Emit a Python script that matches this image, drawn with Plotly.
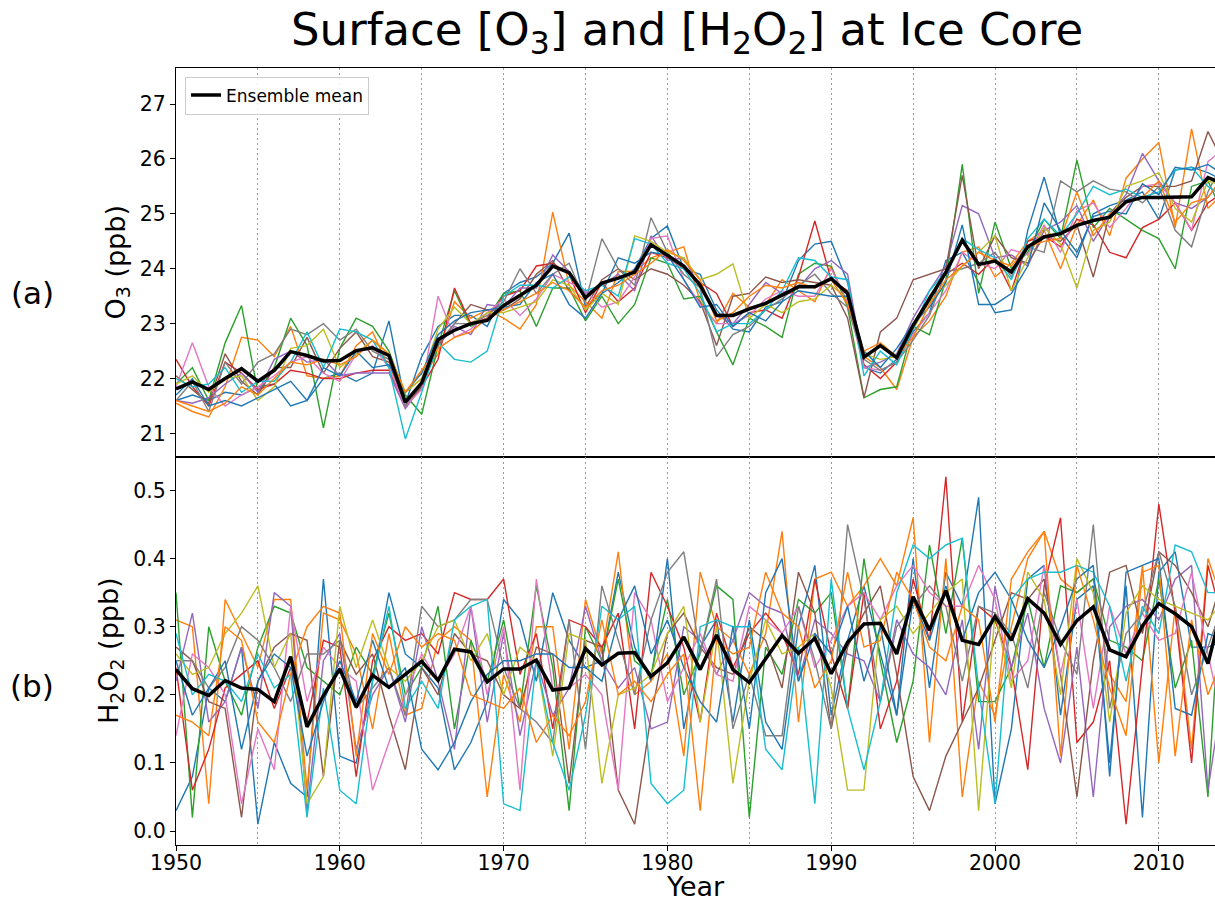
import plotly.graph_objects as go
from plotly.subplots import make_subplots

years = list(range(1950, 2015))

# ---------------- O3 (ppb) ----------------
o3_mean = [21.81,21.94,21.80,22.00,22.18,21.95,22.15,22.49,22.42,22.32,
           22.33,22.51,22.56,22.42,21.57,21.92,22.71,22.88,23.00,23.06,
           23.33,23.52,23.70,24.05,23.93,23.47,23.74,23.83,23.94,24.44,
           24.25,24.05,23.70,23.15,23.15,23.27,23.37,23.52,23.67,23.67,
           23.82,23.55,22.39,22.60,22.38,22.97,23.46,23.94,24.52,24.08,
           24.14,23.94,24.40,24.58,24.64,24.79,24.88,24.94,25.22,25.30,
           25.30,25.30,25.31,25.66,25.54]

o3_m01 = [21.6,21.7,21.6,21.75,21.7,21.85,21.9,21.5,21.6,22.0,
          22.1,21.95,22.1,23.05,21.55,22.4,22.95,23.15,23.15,22.95,
          23.55,23.75,23.85,24.1,24.65,23.3,23.55,23.75,24.0,24.55,
          24.78,24.0,23.9,23.25,22.9,22.85,23.3,23.4,24.15,24.45,
          24.5,23.75,22.2,22.1,22.35,22.85,23.2,24.15,24.3,23.75,
          23.2,23.25,24.7,25.67,24.6,24.2,25.0,25.15,25.25,25.4,
          24.9,25.8,25.85,25.75,25.6]
o3_m02 = [21.55,21.4,21.3,21.85,22.75,22.7,22.4,22.95,22.05,22.0,
          22.05,22.6,22.85,22.2,21.75,22.0,22.45,23.4,23.1,23.25,
          23.1,22.9,23.35,25.03,23.7,23.4,23.1,23.95,23.95,24.2,
          24.3,24.4,23.4,23.0,23.55,23.3,23.35,23.8,23.6,23.4,
          24.05,23.35,22.4,22.2,21.8,22.75,23.05,23.5,24.3,24.4,
          23.85,24.1,24.5,24.7,24.0,24.8,25.25,24.6,25.65,26.0,
          26.3,24.75,26.55,25.1,25.4]
o3_m03 = [21.9,22.2,21.6,22.65,23.33,21.75,22.2,23.1,22.6,21.1,
          22.55,23.1,22.95,22.5,21.7,21.35,22.6,23.6,22.95,23.1,
          23.55,23.6,22.95,23.65,23.65,23.05,23.5,23.0,23.35,24.2,
          24.1,23.45,23.5,22.85,22.25,23.1,22.95,22.75,23.9,24.1,
          24.05,23.3,21.65,21.8,21.85,22.95,22.8,23.8,25.9,23.55,
          24.85,24.0,24.3,24.9,24.55,25.98,24.75,25.1,24.9,24.7,
          24.55,24.0,25.5,25.6,24.95]
o3_m04 = [22.35,21.85,21.5,22.3,22.1,21.8,21.9,22.15,22.1,22.0,
          22.0,22.1,22.15,22.15,21.5,21.85,22.35,23.65,23.0,23.1,
          23.5,23.6,24.05,24.1,23.9,23.2,23.75,23.4,23.65,24.3,
          24.2,24.0,23.75,23.55,22.95,23.2,23.25,23.1,23.85,24.87,
          23.8,23.6,22.25,22.0,22.3,22.9,23.5,23.9,24.1,23.9,
          24.2,23.6,24.5,24.6,24.4,24.9,24.8,24.3,24.2,24.75,
          24.9,25.2,24.7,25.2,25.4]
o3_m05 = [21.6,21.55,21.65,21.9,22.1,21.75,22.35,22.5,22.3,22.35,
          22.05,22.1,22.1,22.1,21.45,21.85,22.6,22.95,22.8,23.35,
          23.3,23.65,23.65,24.25,23.95,23.55,23.7,23.9,23.6,24.6,
          24.15,24.2,23.65,23.15,23.0,23.35,23.75,23.55,23.65,24.0,
          24.15,23.9,22.2,22.3,22.45,23.1,23.6,24.05,25.15,25.0,
          24.2,24.25,24.05,24.7,24.85,25.15,24.5,25.0,25.35,26.1,
          25.6,25.2,25.1,25.3,25.7]
o3_m06 = [22.05,21.8,21.55,22.45,21.95,21.7,22.2,22.2,22.75,22.1,
          22.55,22.85,22.4,22.3,21.5,21.85,22.6,23.0,23.35,23.25,
          23.25,23.45,23.9,24.15,23.6,23.3,23.8,24.0,23.8,24.0,
          23.9,23.7,23.4,22.6,23.5,23.55,23.85,23.75,23.8,23.75,
          23.7,23.1,21.65,22.85,23.1,23.8,23.9,24.0,25.7,24.0,
          24.6,24.2,24.1,24.6,24.5,24.8,23.85,25.0,25.3,25.5,
          25.5,25.5,25.6,26.5,25.9]
o3_m07 = [21.85,22.65,21.85,21.5,21.7,21.85,22.05,22.3,22.4,22.1,
          21.95,22.45,22.6,22.2,21.5,21.8,23.5,22.75,22.9,23.2,
          23.45,23.15,23.45,23.9,23.75,23.6,23.3,23.4,23.85,24.55,
          24.6,23.8,23.35,23.0,23.0,23.15,23.45,23.6,23.5,23.5,
          24.0,23.4,22.2,22.15,22.3,22.8,23.2,23.6,24.3,24.1,
          24.0,24.35,24.25,24.8,24.3,25.05,25.2,24.75,25.1,25.5,
          25.55,25.2,24.7,25.95,26.2]
o3_m08 = [21.6,21.95,21.4,22.3,21.9,22.3,22.45,22.9,22.8,23.0,
          22.7,22.9,22.5,22.35,21.5,21.95,22.65,23.0,23.0,23.15,
          23.4,24.0,23.55,23.9,24.1,23.4,24.55,24.0,23.7,24.93,
          24.3,23.9,23.65,22.4,22.8,22.95,23.25,23.45,23.7,23.9,
          23.55,23.3,22.35,22.15,22.3,22.7,23.15,23.95,24.0,24.1,
          24.3,23.85,24.4,24.3,25.6,25.4,25.6,25.45,25.4,25.2,
          25.5,24.7,24.4,25.4,26.0]
o3_m09 = [21.9,22.05,21.75,22.0,22.05,21.6,21.85,22.55,22.6,22.9,
          22.2,22.45,22.7,22.45,21.75,22.0,22.9,23.3,23.0,23.2,
          23.2,23.3,23.4,23.8,23.7,23.25,23.55,23.35,24.6,24.5,
          24.3,24.2,23.8,23.9,24.09,23.1,23.35,23.2,23.4,23.45,
          23.7,23.45,22.45,22.35,22.4,22.9,23.4,23.7,24.05,24.3,
          24.6,23.6,24.2,24.75,24.45,23.65,24.7,24.85,25.5,25.6,
          25.75,25.1,24.85,25.6,25.5]
o3_m10 = [22.0,21.85,21.9,22.2,21.75,21.95,21.95,22.3,22.85,22.2,
          22.9,22.85,22.7,22.2,20.9,21.75,22.65,22.35,22.3,22.5,
          23.5,23.7,23.7,23.65,23.85,23.6,23.7,23.5,24.55,24.45,
          24.1,24.0,23.55,22.85,23.0,23.0,23.25,23.6,24.2,24.15,
          23.85,23.8,22.05,22.5,22.25,22.9,23.6,23.95,24.55,24.35,
          24.2,23.8,24.55,24.9,24.6,25.0,25.5,25.35,25.45,25.3,
          25.4,25.8,25.85,25.5,25.3]
o3_m11 = [21.7,22.0,21.5,21.6,21.5,21.65,21.8,21.95,21.6,22.2,
          22.05,22.5,22.2,22.25,21.75,22.1,22.8,23.05,23.2,23.25,
          23.3,23.35,23.75,23.9,23.35,23.1,23.55,24.2,24.1,24.3,
          24.25,23.8,23.3,23.35,22.95,23.2,23.05,23.4,23.6,23.55,
          23.5,23.5,22.5,22.2,22.55,23.0,23.3,23.75,24.8,23.35,
          23.35,23.55,24.05,25.2,24.7,24.3,24.95,25.05,25.0,25.55,
          25.35,25.85,25.8,25.9,25.7]
o3_m12 = [21.6,21.5,21.4,21.55,21.85,21.7,22.0,22.3,22.25,22.35,
          22.25,22.4,22.7,22.45,21.75,22.15,22.55,22.75,22.85,23.1,
          23.25,23.4,23.55,23.75,23.6,23.3,23.6,23.7,23.9,24.1,
          24.35,24.15,23.8,23.05,23.2,23.5,23.7,23.65,23.75,23.65,
          23.8,23.35,22.5,22.65,22.4,22.75,23.35,23.8,24.05,24.3,
          24.15,24.05,24.4,24.5,24.55,25.4,24.6,25.0,25.2,25.3,
          25.6,24.85,25.2,25.3,25.7]

# ---------------- H2O2 (ppb) ----------------
h2o2_mean = [0.237,0.209,0.199,0.221,0.210,0.208,0.190,0.256,0.153,0.199,
             0.238,0.182,0.229,0.211,0.230,0.249,0.221,0.267,0.263,0.219,
             0.238,0.238,0.251,0.207,0.210,0.268,0.244,0.261,0.262,0.227,
             0.247,0.285,0.237,0.288,0.237,0.218,0.253,0.287,0.261,0.283,
             0.231,0.277,0.304,0.305,0.260,0.344,0.295,0.353,0.280,0.274,
             0.315,0.280,0.341,0.320,0.274,0.309,0.329,0.266,0.256,0.301,
             0.334,0.319,0.300,0.246,0.341]

h_m01 = [0.03,0.08,0.21,0.19,0.27,0.01,0.13,0.07,0.05,0.37,
         0.11,0.10,0.22,0.35,0.26,0.24,0.21,0.09,0.13,0.19,
         0.34,0.31,0.22,0.35,0.28,0.24,0.25,0.38,0.27,0.22,
         0.40,0.15,0.27,0.31,0.16,0.31,0.16,0.12,0.30,0.39,
         0.17,0.28,0.36,0.26,0.17,0.40,0.21,0.38,0.33,0.49,
         0.04,0.15,0.37,0.39,0.17,0.34,0.36,0.10,0.36,0.02,
         0.38,0.41,0.27,0.27,0.28]
h_m02 = [0.31,0.30,0.04,0.34,0.29,0.24,0.34,0.34,0.06,0.32,
         0.31,0.26,0.15,0.29,0.17,0.18,0.28,0.30,0.28,0.05,
         0.23,0.16,0.30,0.30,0.12,0.34,0.26,0.41,0.20,0.22,
         0.26,0.11,0.38,0.30,0.28,0.23,0.29,0.44,0.16,0.37,
         0.38,0.33,0.36,0.40,0.36,0.46,0.13,0.40,0.05,0.22,
         0.17,0.30,0.40,0.44,0.37,0.35,0.37,0.23,0.19,0.39,
         0.10,0.33,0.12,0.40,0.33]
h_m03 = [0.35,0.02,0.30,0.22,0.17,0.27,0.33,0.32,0.24,0.22,
         0.20,0.27,0.23,0.32,0.20,0.24,0.33,0.15,0.28,0.22,
         0.31,0.18,0.36,0.24,0.03,0.30,0.25,0.37,0.25,0.23,
         0.34,0.20,0.26,0.36,0.34,0.02,0.27,0.23,0.34,0.32,
         0.35,0.18,0.40,0.25,0.13,0.22,0.42,0.29,0.43,0.19,
         0.19,0.24,0.34,0.24,0.36,0.35,0.37,0.28,0.27,0.25,
         0.37,0.21,0.28,0.05,0.44]
h_m04 = [0.24,0.06,0.12,0.21,0.23,0.25,0.18,0.24,0.16,0.28,
         0.27,0.08,0.25,0.30,0.28,0.29,0.26,0.35,0.34,0.34,
         0.37,0.23,0.29,0.15,0.31,0.30,0.27,0.32,0.15,0.38,
         0.33,0.27,0.16,0.32,0.24,0.29,0.32,0.29,0.23,0.37,
         0.26,0.18,0.35,0.15,0.22,0.37,0.28,0.52,0.16,0.33,
         0.31,0.24,0.09,0.36,0.46,0.13,0.16,0.25,0.01,0.24,
         0.48,0.32,0.10,0.39,0.30]
h_m05 = [0.22,0.32,0.16,0.19,0.27,0.18,0.35,0.33,0.03,0.25,
         0.29,0.12,0.20,0.24,0.16,0.30,0.22,0.12,0.33,0.16,
         0.29,0.14,0.25,0.17,0.21,0.33,0.25,0.21,0.24,0.15,
         0.16,0.30,0.28,0.23,0.28,0.35,0.33,0.32,0.22,0.31,
         0.29,0.26,0.25,0.19,0.31,0.26,0.24,0.20,0.31,0.12,
         0.36,0.24,0.32,0.18,0.10,0.27,0.05,0.30,0.33,0.34,
         0.31,0.37,0.39,0.06,0.22]
h_m06 = [0.27,0.25,0.19,0.18,0.02,0.22,0.27,0.29,0.28,0.08,
         0.28,0.23,0.26,0.17,0.09,0.24,0.20,0.29,0.26,0.25,
         0.20,0.18,0.27,0.26,0.07,0.28,0.27,0.06,0.01,0.17,
         0.29,0.32,0.27,0.24,0.23,0.30,0.28,0.21,0.38,0.32,
         0.15,0.27,0.32,0.36,0.23,0.08,0.03,0.11,0.16,0.21,
         0.28,0.35,0.34,0.37,0.23,0.05,0.25,0.38,0.39,0.29,
         0.41,0.39,0.35,0.30,0.38]
h_m07 = [0.14,0.26,0.24,0.20,0.04,0.15,0.09,0.33,0.19,0.27,
         0.24,0.22,0.06,0.13,0.20,0.26,0.22,0.26,0.33,0.20,
         0.30,0.06,0.37,0.21,0.21,0.23,0.20,0.06,0.35,0.31,
         0.19,0.24,0.29,0.23,0.22,0.33,0.31,0.29,0.33,0.24,
         0.28,0.33,0.35,0.31,0.36,0.39,0.35,0.33,0.33,0.39,
         0.34,0.22,0.25,0.39,0.23,0.34,0.18,0.33,0.26,0.32,
         0.28,0.29,0.38,0.26,0.15]
h_m08 = [0.25,0.25,0.21,0.24,0.30,0.28,0.24,0.19,0.26,0.26,
         0.28,0.18,0.21,0.24,0.17,0.33,0.30,0.31,0.34,0.34,
         0.24,0.18,0.16,0.13,0.31,0.12,0.36,0.28,0.20,0.31,
         0.38,0.41,0.26,0.37,0.15,0.23,0.14,0.14,0.33,0.25,
         0.15,0.45,0.34,0.19,0.30,0.33,0.36,0.33,0.22,0.33,
         0.32,0.29,0.21,0.35,0.28,0.23,0.45,0.18,0.29,0.32,
         0.41,0.33,0.20,0.27,0.34]
h_m09 = [0.26,0.23,0.24,0.29,0.32,0.36,0.24,0.29,0.04,0.08,
         0.33,0.24,0.31,0.24,0.22,0.25,0.30,0.31,0.25,0.29,
         0.20,0.27,0.25,0.11,0.29,0.28,0.07,0.20,0.21,0.23,
         0.29,0.33,0.16,0.30,0.07,0.22,0.31,0.26,0.27,0.29,
         0.21,0.06,0.06,0.31,0.33,0.29,0.32,0.35,0.37,0.03,
         0.32,0.21,0.38,0.34,0.20,0.40,0.35,0.16,0.32,0.36,
         0.34,0.33,0.32,0.31,0.34]
h_m10 = [0.29,0.20,0.23,0.22,0.19,0.26,0.21,0.23,0.02,0.21,
         0.06,0.04,0.22,0.33,0.18,0.22,0.18,0.31,0.33,0.34,
         0.04,0.03,0.25,0.13,0.06,0.17,0.33,0.31,0.33,0.07,
         0.04,0.06,0.30,0.31,0.30,0.30,0.12,0.09,0.27,0.04,
         0.37,0.18,0.09,0.19,0.35,0.42,0.40,0.42,0.43,0.21,
         0.04,0.34,0.37,0.38,0.38,0.39,0.38,0.33,0.22,0.33,
         0.29,0.42,0.41,0.35,0.35]
h_m11 = [0.25,0.17,0.21,0.25,0.12,0.22,0.26,0.24,0.11,0.19,
         0.25,0.19,0.28,0.21,0.24,0.12,0.09,0.13,0.19,0.23,
         0.25,0.25,0.26,0.26,0.24,0.24,0.22,0.31,0.36,0.26,
         0.31,0.24,0.19,0.16,0.30,0.15,0.35,0.40,0.22,0.29,
         0.26,0.33,0.22,0.30,0.17,0.34,0.28,0.36,0.28,0.35,
         0.38,0.34,0.28,0.24,0.30,0.37,0.39,0.08,0.38,0.39,
         0.40,0.18,0.17,0.29,0.28]
h_m12 = [0.17,0.16,0.14,0.30,0.28,0.16,0.13,0.23,0.30,0.33,
         0.32,0.11,0.29,0.23,0.30,0.27,0.29,0.28,0.20,0.19,
         0.18,0.21,0.13,0.17,0.14,0.19,0.31,0.20,0.22,0.19,
         0.23,0.26,0.03,0.28,0.26,0.27,0.38,0.32,0.30,0.21,
         0.25,0.38,0.27,0.28,0.38,0.34,0.27,0.25,0.33,0.31,
         0.16,0.37,0.41,0.44,0.11,0.39,0.31,0.21,0.14,0.38,
         0.39,0.11,0.31,0.20,0.26]

o3_members = [o3_m01, o3_m02, o3_m03, o3_m04, o3_m05, o3_m06,
              o3_m07, o3_m08, o3_m09, o3_m10, o3_m11, o3_m12]
h2o2_members = [h_m01, h_m02, h_m03, h_m04, h_m05, h_m06,
                h_m07, h_m08, h_m09, h_m10, h_m11, h_m12]

colors = ["#1f77b4", "#ff7f0e", "#2ca02c", "#d62728", "#9467bd",
          "#8c564b", "#e377c2", "#7f7f7f", "#bcbd22", "#17becf"]

FONT = "DejaVu Sans"

fig = make_subplots(rows=2, cols=1, shared_xaxes=True, vertical_spacing=0)

for i, vals in enumerate(o3_members):
    fig.add_trace(go.Scatter(x=years, y=vals, mode="lines",
                             line=dict(color=colors[i % 10], width=1.4),
                             showlegend=False, hoverinfo="skip"), row=1, col=1)
fig.add_trace(go.Scatter(x=years, y=o3_mean, mode="lines", name="Ensemble mean",
                         line=dict(color="black", width=3.5), showlegend=True),
              row=1, col=1)

for i, vals in enumerate(h2o2_members):
    fig.add_trace(go.Scatter(x=years, y=vals, mode="lines",
                             line=dict(color=colors[i % 10], width=1.4),
                             showlegend=False, hoverinfo="skip"), row=2, col=1)
fig.add_trace(go.Scatter(x=years, y=h2o2_mean, mode="lines", name="Ensemble mean",
                         line=dict(color="black", width=3.5), showlegend=False),
              row=2, col=1)

axis_common = dict(showline=True, linecolor="black", linewidth=1.3, mirror=True,
                   ticks="outside", ticklen=5, tickwidth=1.3, tickcolor="black",
                   zeroline=False, automargin=False,
                   tickfont=dict(family=FONT, size=20.5, color="black"))

xgrid = dict(showgrid=True, gridcolor="#9a9a9a", griddash="2px,3px", gridwidth=1,
             minor=dict(dtick=5, showgrid=True, gridcolor="#9a9a9a",
                        griddash="2px,3px", gridwidth=1, ticklen=0))

fig.update_xaxes(range=[1950, 2013.43], dtick=10, tick0=1950, **axis_common, **xgrid)
fig.update_xaxes(showticklabels=False, ticks="", row=1, col=1)
fig.update_xaxes(ticklabelstandoff=-6, row=2, col=1)

fig.update_yaxes(showgrid=False, **axis_common)
fig.update_yaxes(range=[20.58, 27.657], dtick=1, tick0=21, row=1, col=1,
                 title=dict(text="O<sub>3</sub> (ppb)",
                            font=dict(family=FONT, size=27, color="black"), standoff=6))
fig.update_yaxes(range=[-0.0205, 0.5499], dtick=0.1, tick0=0, tickformat=".1f",
                 row=2, col=1,
                 title=dict(text="H<sub>2</sub>O<sub>2</sub> (ppb)",
                            font=dict(family=FONT, size=27, color="black"), standoff=6))

ann_x = (32 - 176) / 1039
fig.update_layout(
    width=1215, height=901,
    margin=dict(l=176, r=0, t=68, b=56),
    plot_bgcolor="white", paper_bgcolor="white",
    font=dict(family=FONT, color="black"),
    title=dict(text="Surface [O<sub>3</sub>] and [H<sub>2</sub>O<sub>2</sub>] at Ice Core",
               x=0.5655, xanchor="center", y=0.985, yanchor="top",
               font=dict(family=FONT, size=45, color="black")),
    legend=dict(x=0.0087, y=0.989, xanchor="left", yanchor="top",
                bgcolor="rgba(255,255,255,0.85)", bordercolor="#cccccc", borderwidth=1,
                font=dict(family=FONT, size=17, color="black")),
    annotations=[
        dict(text="(a)", x=ann_x, y=0.7104, xref="paper", yref="paper", showarrow=False,
             xanchor="center", yanchor="middle",
             font=dict(family=FONT, size=31, color="black")),
        dict(text="(b)", x=ann_x, y=0.2046, xref="paper", yref="paper", showarrow=False,
             xanchor="center", yanchor="middle",
             font=dict(family=FONT, size=31, color="black")),
        dict(text="Year", x=0.5, y=(901 - 56 - 886) / 777, xref="paper", yref="paper",
             showarrow=False, xanchor="center", yanchor="middle",
             font=dict(family=FONT, size=27, color="black")),
    ],
)

fig.write_html("out.html")
